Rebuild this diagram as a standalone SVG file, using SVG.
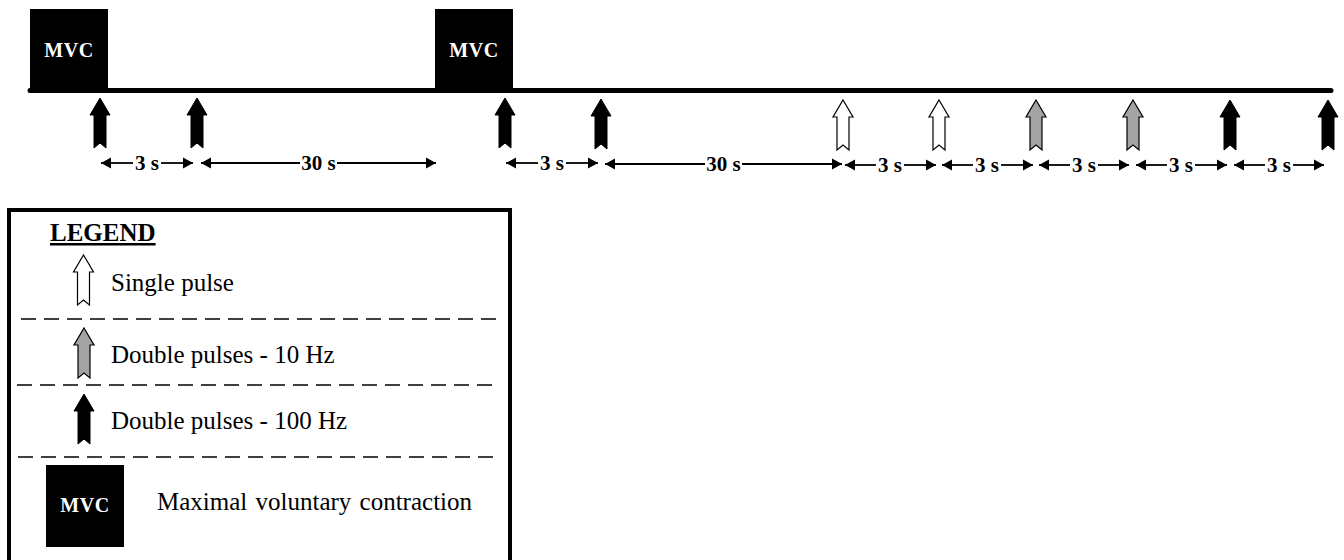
<svg xmlns="http://www.w3.org/2000/svg" width="1344" height="560" viewBox="0 0 1344 560">
<style>
.mvc{fill:#000}
.mvct{font-family:"Liberation Serif","Times New Roman",serif;font-weight:bold;font-size:20px;letter-spacing:0.6px;fill:#fff;text-anchor:middle}
.dim{font-family:"Liberation Serif","Times New Roman",serif;font-weight:bold;font-size:21px;fill:#000;text-anchor:middle}
.dl{stroke:#000;stroke-width:1.8;fill:none;marker-end:url(#ah)}
.lt{font-family:"Liberation Serif","Times New Roman",serif;font-size:25px;fill:#000}
.dash{stroke:#000;stroke-width:1.6;stroke-dasharray:15 8;fill:none}
.w{fill:#fff;stroke:#000;stroke-width:1.2}
.g{fill:#a3a3a3;stroke:#000;stroke-width:1.2}
.b{fill:#000;stroke:#000;stroke-width:1}
</style>
<defs>
<path id="arr" d="M0,0 L10,17 L6,17 L6,50 L0,45 L-6,50 L-6,17 L-10,17 Z"/>
<marker id="ah" markerUnits="userSpaceOnUse" markerWidth="12" markerHeight="12" refX="10" refY="6" orient="auto">
<path d="M0,0.5 L10,6 L0,11.5 Z" fill="#000"/>
</marker>
</defs>
<rect width="1344" height="560" fill="#fff"/>

<g id="timeline">
<line x1="30" y1="90.5" x2="1331" y2="90.5" stroke="#000" stroke-width="5" stroke-linecap="round"/>
</g>

<g id="mvc1">
<rect class="mvc" x="30" y="9" width="78" height="82"/>
<text class="mvct" x="69" y="57">MVC</text>
</g>
<g id="mvc2">
<rect class="mvc" x="435" y="9" width="78" height="82"/>
<text class="mvct" x="474" y="57">MVC</text>
</g>

<g id="pulses">
<use href="#arr" class="b" x="100" y="98"/>
<use href="#arr" class="b" x="197" y="98"/>
<use href="#arr" class="b" x="505" y="98"/>
<use href="#arr" class="b" x="601" y="99"/>
<use href="#arr" class="w" x="843" y="100"/>
<use href="#arr" class="w" x="939" y="100"/>
<use href="#arr" class="g" x="1036" y="100"/>
<use href="#arr" class="g" x="1133" y="100"/>
<use href="#arr" class="b" x="1230" y="100"/>
<use href="#arr" class="b" x="1328" y="100"/>
</g>

<g id="connectors">
<line class="dl" x1="133" y1="163" x2="101" y2="163"/><line class="dl" x1="161" y1="163" x2="193" y2="163"/>
<line class="dl" x1="300" y1="163" x2="201" y2="163"/><line class="dl" x1="337" y1="163" x2="436" y2="163"/>
<line class="dl" x1="538" y1="163" x2="506" y2="163"/><line class="dl" x1="566" y1="163" x2="598" y2="163"/>
<line class="dl" x1="705" y1="164" x2="605" y2="164"/><line class="dl" x1="742" y1="164" x2="842" y2="164"/>
<line class="dl" x1="876" y1="165" x2="845" y2="165"/><line class="dl" x1="904" y1="165" x2="936" y2="165"/>
<line class="dl" x1="973" y1="165" x2="942" y2="165"/><line class="dl" x1="1001" y1="165" x2="1033" y2="165"/>
<line class="dl" x1="1070" y1="165" x2="1039" y2="165"/><line class="dl" x1="1098" y1="165" x2="1129" y2="165"/>
<line class="dl" x1="1167" y1="165" x2="1136" y2="165"/><line class="dl" x1="1195" y1="165" x2="1227" y2="165"/>
<line class="dl" x1="1265" y1="165" x2="1234" y2="165"/><line class="dl" x1="1293" y1="165" x2="1324" y2="165"/>
</g>

<g id="labels">
<text class="dim" x="147" y="170">3 s</text>
<text class="dim" x="318.5" y="170">30 s</text>
<text class="dim" x="552" y="170">3 s</text>
<text class="dim" x="723.5" y="171">30 s</text>
<text class="dim" x="890" y="172">3 s</text>
<text class="dim" x="987" y="172">3 s</text>
<text class="dim" x="1084" y="172">3 s</text>
<text class="dim" x="1181" y="172">3 s</text>
<text class="dim" x="1279" y="172">3 s</text>
</g>

<g id="legend">
<rect x="9" y="210" width="501" height="420" fill="none" stroke="#000" stroke-width="4"/>
<text class="lt" x="50" y="241" font-weight="bold" text-decoration="underline">LEGEND</text>
<use href="#arr" class="w" x="83.5" y="255"/>
<text class="lt" x="111" y="291">Single pulse</text>
<line class="dash" x1="21" y1="319" x2="498" y2="319"/>
<use href="#arr" class="g" x="84" y="328"/>
<text class="lt" x="111" y="363">Double pulses - 10 Hz</text>
<line class="dash" x1="17" y1="385" x2="495" y2="385"/>
<use href="#arr" class="b" x="84" y="394"/>
<text class="lt" x="111" y="429">Double pulses - 100 Hz</text>
<line class="dash" x1="18" y1="457" x2="497" y2="457"/>
<rect class="mvc" x="46" y="465" width="78" height="82"/>
<text class="mvct" x="85" y="512">MVC</text>
<text class="lt" x="157" y="510" word-spacing="2">Maximal voluntary contraction</text>
</g>
</svg>
